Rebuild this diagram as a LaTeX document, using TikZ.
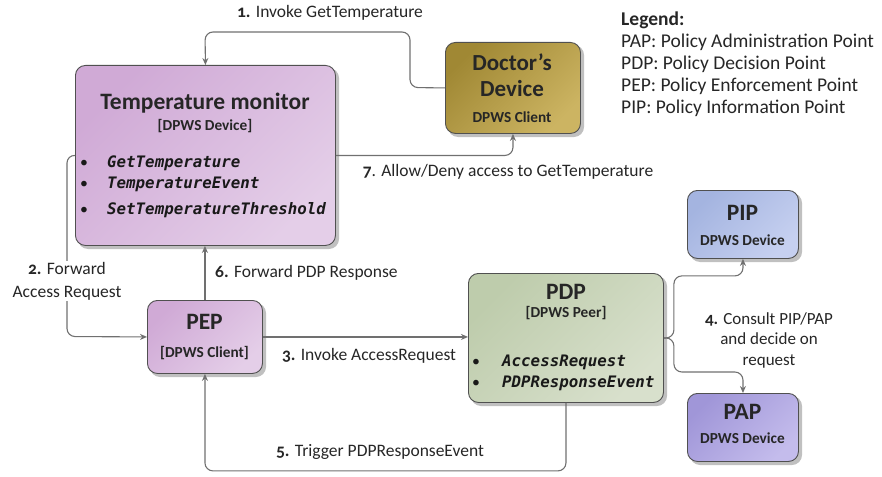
\documentclass[tikz,border=0pt]{standalone}
\usepackage{fontspec}
\setmainfont[Numbers=OldStyle]{Carlito}
\newfontfamily\codefont{DejaVu Sans Mono}
\usetikzlibrary{arrows.meta,calc}
\definecolor{linec}{HTML}{707070}
\definecolor{bordc}{HTML}{505050}
\tikzset{
  box/.style={draw=bordc, line width=0.9pt, rounded corners=10pt, inner sep=0pt, anchor=north west},
  shadowbox/.style={fill=black!45, opacity=0.55, rounded corners=10pt},
  conn/.style={draw=linec, line width=1.1pt, rounded corners=8pt, -{Stealth[length=7pt,width=6pt]}},
  lbl/.style={font=\fontsize{17.5}{20}\selectfont, inner sep=1pt, text=black!85},
  ttl/.style={font=\fontsize{23.5}{26}\selectfont\bfseries, text=black!85, inner sep=0pt},
  ttlb/.style={font=\fontsize{23}{26}\selectfont\bfseries, text=black!85, inner sep=0pt, align=center},
  sub/.style={font=\fontsize{15.3}{17}\selectfont\bfseries, text=black!85, inner sep=0pt},
  item/.style={font=\fontsize{15.8}{18}\selectfont, text=black!90, inner sep=0pt, anchor=west},
  leg/.style={font=\fontsize{19.5}{22}\selectfont, text=black!85, inner sep=0pt, anchor=west},
}
\newcommand{\itm}[2]{\makebox[#1][l]{\textbullet}{\codefont\bfseries\itshape #2}}
\begin{document}
\begin{tikzpicture}[x=1pt,y=-1pt]
\useasboundingbox (0,0) rectangle (882,476);
% shadows
\fill[shadowbox] (78,68) rectangle (339,249);
\fill[shadowbox] (448,45) rectangle (584,137);
\fill[shadowbox] (150,303) rectangle (266,377);
\fill[shadowbox] (471,276) rectangle (667,406);
\fill[shadowbox] (690,193) rectangle (802,262);
\fill[shadowbox] (690,396) rectangle (802,465);
% boxes
\node[box, minimum width=260pt, minimum height=180pt, top color={rgb,255:red,208;green,170;blue,214}, bottom color={rgb,255:red,228;green,206;blue,232}, shading angle=45] (tm) at (75,65) {};
\node[box, minimum width=135pt, minimum height=91pt, top color={rgb,255:red,160;green,136;blue,52}, bottom color={rgb,255:red,204;green,180;blue,98}, shading angle=45] (doc) at (445,42) {};
\node[box, minimum width=115pt, minimum height=73pt, top color={rgb,255:red,208;green,170;blue,214}, bottom color={rgb,255:red,228;green,206;blue,232}, shading angle=45] (pep) at (147,300) {};
\node[box, minimum width=195pt, minimum height=129pt, top color={rgb,255:red,190;green,204;blue,172}, bottom color={rgb,255:red,216;green,224;blue,204}, shading angle=45] (pdp) at (468,273) {};
\node[box, minimum width=111pt, minimum height=68pt, top color={rgb,255:red,164;green,180;blue,224}, bottom color={rgb,255:red,198;green,208;blue,240}, shading angle=45] (pip) at (687,190) {};
\node[box, minimum width=111pt, minimum height=68pt, top color={rgb,255:red,160;green,150;blue,216}, bottom color={rgb,255:red,196;green,188;blue,236}, shading angle=45] (pap) at (687,393) {};
% box texts
\node[ttl] (tmT) at (205,103) {Temperature monitor};
\node[sub] (tmS) at (205,126) {[DPWS Device]};
\node[item] (tm1) at (80,163) {\itm{27pt}{GetTemperature}};
\node[item] (tm2) at (80,184) {\itm{27pt}{TemperatureEvent}};
\node[item] (tm3) at (80,210) {\itm{27pt}{SetTemperatureThreshold}};
\node[ttlb] (docT) at (512,75) {Doctor’s\\Device};
\node[sub] (docS) at (512,117) {DPWS Client};
\node[ttl] (pepT) at (204.5,322) {PEP};
\node[sub] (pepS) at (204.5,353) {[DPWS Client]};
\node[ttl] (pdpT) at (566,292) {PDP};
\node[sub] (pdpS) at (566,313) {[DPWS Peer]};
\node[item] (pdp1) at (472,362) {\itm{30pt}{AccessRequest}};
\node[item] (pdp2) at (472,383) {\itm{30pt}{PDPResponseEvent}};
\node[ttl] (pipT) at (742.5,213) {PIP};
\node[sub] (pipS) at (742.5,240) {DPWS Device};
\node[ttl] (papT) at (742.5,412) {PAP};
\node[sub] (papS) at (742.5,438) {DPWS Device};
% connectors
\draw[conn] (doc.west) -- (410,87.5) -- (410,32) -- (205,32) -- (tm.north);
\draw[conn] (tm.east) -| (doc.south);
\draw[conn] (tm.west) -- (67,155) -- (67,336.5) -- (pep.west);
\draw[conn] (pep.north) -- (pep.north |- tm.south);
\draw[conn] (pep.east) -- (pep.east -| pdp.west);
\draw[conn] (pdp.south) -- ++(0,68) -| (pep.south);
\coordinate (br) at ($(pdp.east)+(10,0)$);
\draw[conn] (pdp.east) -- (br) |- ($(pip.south)+(0,17)$) -- (pip.south);
\draw[conn] (pdp.east) -- (br) |- ($(pap.north)+(0,-21)$) -- (pap.north);
% labels
\node[lbl] (l1) at (330,13) {\textbf{1.} Invoke GetTemperature};
\node[lbl] (l7) at (508,172) {\textbf{7}. Allow/Deny access to GetTemperature};
\node[lbl, fill=white, align=center, font=\fontsize{17.5}{23}\selectfont] (l2) at (67,281) {\textbf{2.} Forward\\Access Request};
\node[lbl, anchor=west] (l6) at (214,273) {\textbf{6.} Forward PDP Response};
\node[lbl] (l3) at (369,356) {\textbf{3.} Invoke AccessRequest};
\node[lbl] (l5) at (380,452) {\textbf{5.} Trigger PDPResponseEvent};
\node[lbl, align=center, font=\fontsize{17}{20.5}\selectfont] (l4) at (769,340) {\textbf{4.} Consult PIP/PAP\\and decide on\\request};
% legend
\node[leg, font=\fontsize{19.5}{22}\selectfont\bfseries] (lg0) at (621,20) {Legend:};
\node[leg] (lg1) at (621,42) {PAP: Policy Administration Point};
\node[leg] (lg2) at (621,64) {PDP: Policy Decision Point};
\node[leg] (lg3) at (621,86) {PEP: Policy Enforcement Point};
\node[leg] (lg4) at (621,108) {PIP: Policy Information Point};
\end{tikzpicture}
\end{document}
